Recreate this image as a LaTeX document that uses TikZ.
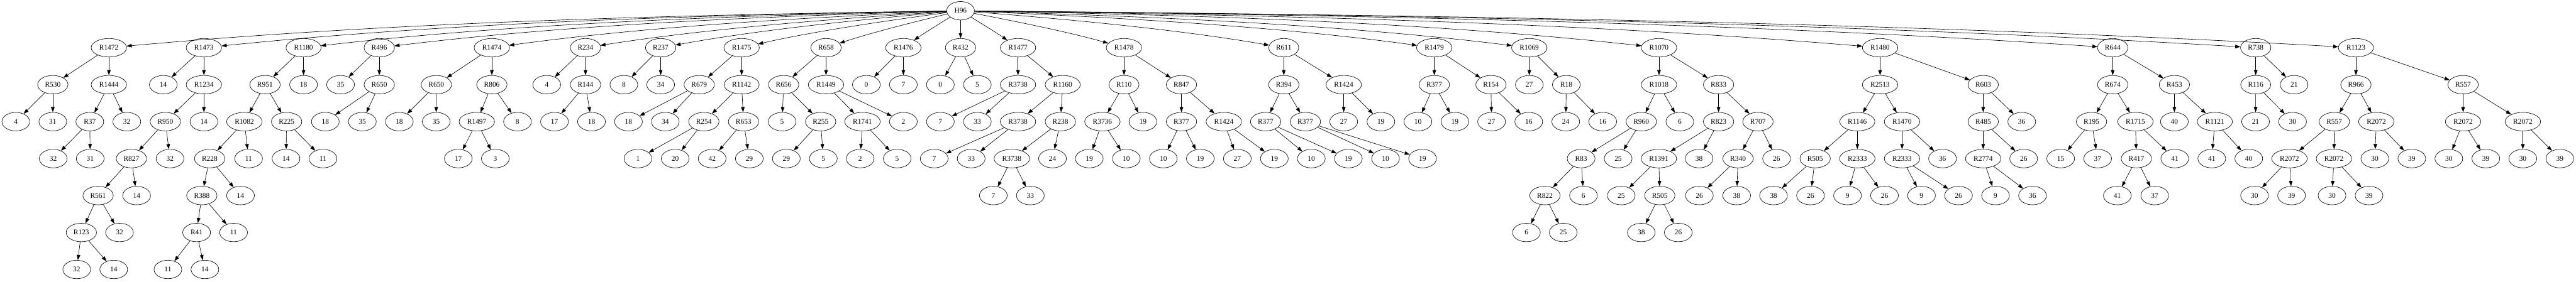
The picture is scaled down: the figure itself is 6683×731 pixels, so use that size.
\documentclass[tikz,border=0pt]{standalone}
\usepackage{fontspec}
\setmainfont{Liberation Serif}
\usetikzlibrary{shapes.geometric,arrows.meta}
\newcommand{\gvn}[4]{\node[gv] (#1) at (#2,{28+96*#3}) {#4};}
\begin{document}
\begin{tikzpicture}[x=0.75pt,y=-0.75pt,
  gv/.style={ellipse,draw,line width=0.8pt,minimum width=54pt,minimum height=36pt,
    inner xsep=5.7pt,inner ysep=1pt,font=\fontsize{14}{16}\selectfont},
  edge/.style={line width=0.8pt,-{Triangle[length=10pt,width=7pt]}}]
\fill[white] (0,0) rectangle (6683,731);
\useasboundingbox (0,0) rectangle (6683,731);
% level 0
\gvn{H96}{2492}{0}{H96}
% level 1
\gvn{a1}{282.5}{1}{R1472}
\gvn{a2}{529}{1}{R1473}
\gvn{a3}{787.5}{1}{R1180}
\gvn{a4}{984}{1}{R496}
\gvn{a5}{1276}{1}{R1474}
\gvn{a6}{1519}{1}{R234}
\gvn{a7}{1714}{1}{R237}
\gvn{a8}{1924}{1}{R1475}
\gvn{a9}{2143}{1}{R658}
\gvn{a10}{2343.6}{1}{R1476}
\gvn{a11}{2492}{1}{R432}
\gvn{a12}{2641}{1}{R1477}
\gvn{a13}{2916}{1}{R1478}
\gvn{a14}{3330.5}{1}{R611}
\gvn{a15}{3721}{1}{R1479}
\gvn{a16}{3967.5}{1}{R1069}
\gvn{a17}{4304}{1}{R1070}
\gvn{a18}{4877.5}{1}{R1480}
\gvn{a19}{5481}{1}{R644}
\gvn{a20}{5852}{1}{R738}
\gvn{a21}{6112}{1}{R1123}
% level 2
\gvn{b1}{137}{2}{R530}
\gvn{b2}{282.5}{2}{R1444}
\gvn{b3}{423.6}{2}{14}
\gvn{b4}{529}{2}{R1234}
\gvn{b5}{687.5}{2}{R951}
\gvn{b6}{787.5}{2}{18}
\gvn{b7}{883.5}{2}{35}
\gvn{b8}{984}{2}{R650}
\gvn{b9}{1132}{2}{R650}
\gvn{b10}{1276}{2}{R806}
\gvn{b11}{1418.5}{2}{4}
\gvn{b12}{1519}{2}{R144}
\gvn{b13}{1618.5}{2}{8}
\gvn{b14}{1714}{2}{34}
\gvn{b15}{1814}{2}{R679}
\gvn{b16}{1924}{2}{R1142}
\gvn{b17}{2033}{2}{R656}
\gvn{b18}{2143}{2}{R1449}
\gvn{b19}{2247.6}{2}{0}
\gvn{b20}{2343.6}{2}{7}
\gvn{b21}{2439.6}{2}{0}
\gvn{b22}{2535.6}{2}{5}
\gvn{b23}{2641}{2}{R3738}
\gvn{b24}{2757}{2}{R1160}
\gvn{b25}{2916}{2}{R110}
\gvn{b26}{3065}{2}{R847}
\gvn{b27}{3330.5}{2}{R394}
\gvn{b28}{3486}{2}{R1424}
\gvn{b29}{3721}{2}{R377}
\gvn{b30}{3868}{2}{R154}
\gvn{b31}{3967.5}{2}{27}
\gvn{b32}{4063.5}{2}{R18}
\gvn{b33}{4304}{2}{R1018}
\gvn{b34}{4458.5}{2}{R833}
\gvn{b35}{4877.5}{2}{R2513}
\gvn{b36}{5145}{2}{R603}
\gvn{b37}{5481}{2}{R674}
\gvn{b38}{5641}{2}{R453}
\gvn{b39}{5852}{2}{R116}
\gvn{b40}{5951.6}{2}{21}
\gvn{b41}{6112}{2}{R966}
\gvn{b42}{6390}{2}{R557}
% level 3
\gvn{c1}{41}{3}{4}
\gvn{c2}{137}{3}{31}
\gvn{c3}{233}{3}{R37}
\gvn{c4}{329}{3}{32}
\gvn{c5}{429}{3}{R950}
\gvn{c6}{529}{3}{14}
\gvn{c7}{634}{3}{R1082}
\gvn{c8}{743.5}{3}{R225}
\gvn{c9}{844}{3}{18}
\gvn{c10}{940}{3}{35}
\gvn{c11}{1036}{3}{18}
\gvn{c12}{1131.6}{3}{35}
\gvn{c13}{1237}{3}{R1497}
\gvn{c14}{1342.5}{3}{8}
\gvn{c15}{1438.5}{3}{17}
\gvn{c16}{1534.5}{3}{18}
\gvn{c17}{1630.5}{3}{18}
\gvn{c18}{1726}{3}{34}
\gvn{c19}{1826}{3}{R254}
\gvn{c20}{1929}{3}{R653}
\gvn{c21}{2029}{3}{5}
\gvn{c22}{2129}{3}{R255}
\gvn{c23}{2237.5}{3}{R1741}
\gvn{c24}{2343.6}{3}{2}
\gvn{c25}{2439.6}{3}{7}
\gvn{c26}{2535.6}{3}{33}
\gvn{c27}{2641}{3}{R3738}
\gvn{c28}{2751}{3}{R238}
\gvn{c29}{2860}{3}{R3736}
\gvn{c30}{2965}{3}{19}
\gvn{c31}{3065}{3}{R377}
\gvn{c32}{3175}{3}{R1424}
\gvn{c33}{3283.5}{3}{R377}
\gvn{c34}{3386.5}{3}{R377}
\gvn{c35}{3486}{3}{27}
\gvn{c36}{3582.5}{3}{19}
\gvn{c37}{3678.5}{3}{10}
\gvn{c38}{3774.5}{3}{19}
\gvn{c39}{3869.6}{3}{27}
\gvn{c40}{3966}{3}{16}
\gvn{c41}{4062}{3}{24}
\gvn{c42}{4158}{3}{16}
\gvn{c43}{4258}{3}{R960}
\gvn{c44}{4358}{3}{6}
\gvn{c45}{4458.5}{3}{R823}
\gvn{c46}{4560.7}{3}{R707}
\gvn{c47}{4818.5}{3}{R1146}
\gvn{c48}{4934.5}{3}{R1470}
\gvn{c49}{5145}{3}{R485}
\gvn{c50}{5245}{3}{36}
\gvn{c51}{5426}{3}{R195}
\gvn{c52}{5540}{3}{R1715}
\gvn{c53}{5641}{3}{40}
\gvn{c54}{5746}{3}{R1121}
\gvn{c55}{5851.6}{3}{21}
\gvn{c56}{5947.6}{3}{30}
\gvn{c57}{6056}{3}{R557}
\gvn{c58}{6165}{3}{R2072}
\gvn{c59}{6390}{3}{R2072}
\gvn{c60}{6545}{3}{R2072}
% level 4
\gvn{d1}{138}{4}{32}
\gvn{d2}{234}{4}{31}
\gvn{d3}{341}{4}{R827}
\gvn{d4}{441}{4}{32}
\gvn{d5}{544}{4}{R228}
\gvn{d6}{645}{4}{11}
\gvn{d7}{742}{4}{14}
\gvn{d8}{838}{4}{11}
\gvn{d9}{1189}{4}{17}
\gvn{d10}{1285}{4}{3}
\gvn{d11}{1655}{4}{1}
\gvn{d12}{1751.5}{4}{20}
\gvn{d13}{1847.5}{4}{42}
\gvn{d14}{1944}{4}{29}
\gvn{d15}{2040}{4}{29}
\gvn{d16}{2136}{4}{5}
\gvn{d17}{2231.6}{4}{2}
\gvn{d18}{2327.6}{4}{5}
\gvn{d19}{2423.6}{4}{7}
\gvn{d20}{2519.6}{4}{33}
\gvn{d21}{2625}{4}{R3738}
\gvn{d22}{2730.5}{4}{24}
\gvn{d23}{2826}{4}{19}
\gvn{d24}{2922}{4}{10}
\gvn{d25}{3018}{4}{10}
\gvn{d26}{3114}{4}{19}
\gvn{d27}{3210}{4}{27}
\gvn{d28}{3306}{4}{19}
\gvn{d29}{3402}{4}{10}
\gvn{d30}{3498}{4}{19}
\gvn{d31}{3594.5}{4}{10}
\gvn{d32}{3690.5}{4}{19}
\gvn{d33}{4102}{4}{R83}
\gvn{d34}{4198}{4}{25}
\gvn{d35}{4303.5}{4}{R1391}
\gvn{d36}{4408}{4}{38}
\gvn{d37}{4509}{4}{R340}
\gvn{d38}{4609}{4}{26}
\gvn{d39}{4709}{4}{R505}
\gvn{d40}{4818.5}{4}{R2333}
\gvn{d41}{4934.5}{4}{R2333}
\gvn{d42}{5039.5}{4}{36}
\gvn{d43}{5145}{4}{R2774}
\gvn{d44}{5250}{4}{26}
\gvn{d45}{5346}{4}{15}
\gvn{d46}{5442}{4}{37}
\gvn{d47}{5542.5}{4}{R417}
\gvn{d48}{5642}{4}{41}
\gvn{d49}{5738}{4}{41}
\gvn{d50}{5834}{4}{40}
\gvn{d51}{5939.6}{4}{R2072}
\gvn{d52}{6055}{4}{R2072}
\gvn{d53}{6161}{4}{30}
\gvn{d54}{6257}{4}{39}
\gvn{d55}{6353}{4}{30}
\gvn{d56}{6449}{4}{39}
\gvn{d57}{6545}{4}{30}
\gvn{d58}{6641}{4}{39}
% level 5
\gvn{e1}{254.5}{5}{R561}
\gvn{e2}{354.5}{5}{14}
\gvn{e3}{523.6}{5}{R388}
\gvn{e4}{624}{5}{14}
\gvn{e5}{2577}{5}{7}
\gvn{e6}{2673}{5}{33}
\gvn{e7}{4008}{5}{R822}
\gvn{e8}{4108}{5}{6}
\gvn{e9}{4206}{5}{25}
\gvn{e10}{4306}{5}{R505}
\gvn{e11}{4408.7}{5}{26}
\gvn{e12}{4505.5}{5}{38}
\gvn{e13}{4601}{5}{38}
\gvn{e14}{4697}{5}{26}
\gvn{e15}{4793}{5}{9}
\gvn{e16}{4889}{5}{26}
\gvn{e17}{4985}{5}{9}
\gvn{e18}{5081}{5}{26}
\gvn{e19}{5177}{5}{9}
\gvn{e20}{5273}{5}{36}
\gvn{e21}{5493}{5}{41}
\gvn{e22}{5590}{5}{37}
\gvn{e23}{5849}{5}{30}
\gvn{e24}{5945}{5}{39}
\gvn{e25}{6050}{5}{30}
\gvn{e26}{6146}{5}{39}
% level 6
\gvn{f1}{211}{6}{R123}
\gvn{f2}{310}{6}{32}
\gvn{f3}{510}{6}{R41}
\gvn{f4}{606}{6}{11}
\gvn{f5}{3960}{6}{6}
\gvn{f6}{4055.5}{6}{25}
\gvn{f7}{4258}{6}{38}
\gvn{f8}{4354}{6}{26}
% level 7
\gvn{g1}{199}{7}{32}
\gvn{g2}{295}{7}{14}
\gvn{g3}{435.6}{7}{11}
\gvn{g4}{531.6}{7}{14}
% edges from the root (curved like the layout engine's splines)
\draw[edge] (H96) -- (a11);
\foreach \t/\x in {a1/282.5,a2/529,a3/787.5,a4/984,a5/1276,a6/1519,a7/1714,a8/1924,
  a9/2143,a10/2343.6,a12/2641,a13/2916,a14/3330.5,a15/3721,a16/3967.5,a17/4304,
  a18/4877.5,a19/5481,a20/5852,a21/6112}{
  \pgfmathsetmacro{\hDist}{abs(\x-2492)}
  \pgfmathsetmacro{\hSg}{(\x>2492) ? 1 : -1}
  \pgfmathsetmacro{\hR}{min(1,\hDist/1800)}
  \pgfmathsetmacro{\hAx}{2492+\hSg*\hDist/3}
  \pgfmathsetmacro{\hAy}{28+32-21*\hR}
  \pgfmathsetmacro{\hBx}{\x-\hSg*\hDist/3}
  \pgfmathsetmacro{\hBy}{124-32-35*\hR}
  \draw[edge] (H96) .. controls (\hAx,\hAy) and (\hBx,\hBy) .. (\t);
}
\foreach \p/\q in {a1/b1,a1/b2,a2/b3,a2/b4,a3/b5,a3/b6,a4/b7,a4/b8,a5/b9,a5/b10,
  a6/b11,a6/b12,a7/b13,a7/b14,a8/b15,a8/b16,a9/b17,a9/b18,a10/b19,a10/b20,
  a11/b21,a11/b22,a12/b23,a12/b24,a13/b25,a13/b26,a14/b27,a14/b28,a15/b29,a15/b30,
  a16/b31,a16/b32,a17/b33,a17/b34,a18/b35,a18/b36,a19/b37,a19/b38,a20/b39,a20/b40,
  a21/b41,a21/b42,
  b1/c1,b1/c2,b2/c3,b2/c4,b4/c5,b4/c6,b5/c7,b5/c8,b8/c9,b8/c10,b9/c11,b9/c12,
  b10/c13,b10/c14,b12/c15,b12/c16,b15/c17,b15/c18,b16/c19,b16/c20,b17/c21,b17/c22,
  b18/c23,b18/c24,b23/c25,b23/c26,b24/c27,b24/c28,b25/c29,b25/c30,b26/c31,b26/c32,
  b27/c33,b27/c34,b28/c35,b28/c36,b29/c37,b29/c38,b30/c39,b30/c40,b32/c41,b32/c42,
  b33/c43,b33/c44,b34/c45,b34/c46,b35/c47,b35/c48,b36/c49,b36/c50,b37/c51,b37/c52,
  b38/c53,b38/c54,b39/c55,b39/c56,b41/c57,b41/c58,b42/c59,b42/c60,
  c3/d1,c3/d2,c5/d3,c5/d4,c7/d5,c7/d6,c8/d7,c8/d8,c13/d9,c13/d10,c19/d11,c19/d12,
  c20/d13,c20/d14,c22/d15,c22/d16,c23/d17,c23/d18,c27/d19,c27/d20,c28/d21,c28/d22,
  c29/d23,c29/d24,c31/d25,c31/d26,c32/d27,c32/d28,c33/d29,c33/d30,c34/d31,c34/d32,
  c43/d33,c43/d34,c45/d35,c45/d36,c46/d37,c46/d38,c47/d39,c47/d40,c48/d41,c48/d42,
  c49/d43,c49/d44,c51/d45,c51/d46,c52/d47,c52/d48,c54/d49,c54/d50,c57/d51,c57/d52,
  c58/d53,c58/d54,c59/d55,c59/d56,c60/d57,c60/d58,
  d3/e1,d3/e2,d5/e3,d5/e4,d21/e5,d21/e6,d33/e7,d33/e8,d35/e9,d35/e10,d37/e11,d37/e12,
  d39/e13,d39/e14,d40/e15,d40/e16,d41/e17,d41/e18,d43/e19,d43/e20,d47/e21,d47/e22,
  d51/e23,d51/e24,d52/e25,d52/e26,
  e1/f1,e1/f2,e3/f3,e3/f4,e7/f5,e7/f6,e10/f7,e10/f8,
  f1/g1,f1/g2,f3/g3,f3/g4}
  \draw[edge] (\p) -- (\q);
\end{tikzpicture}
\end{document}
